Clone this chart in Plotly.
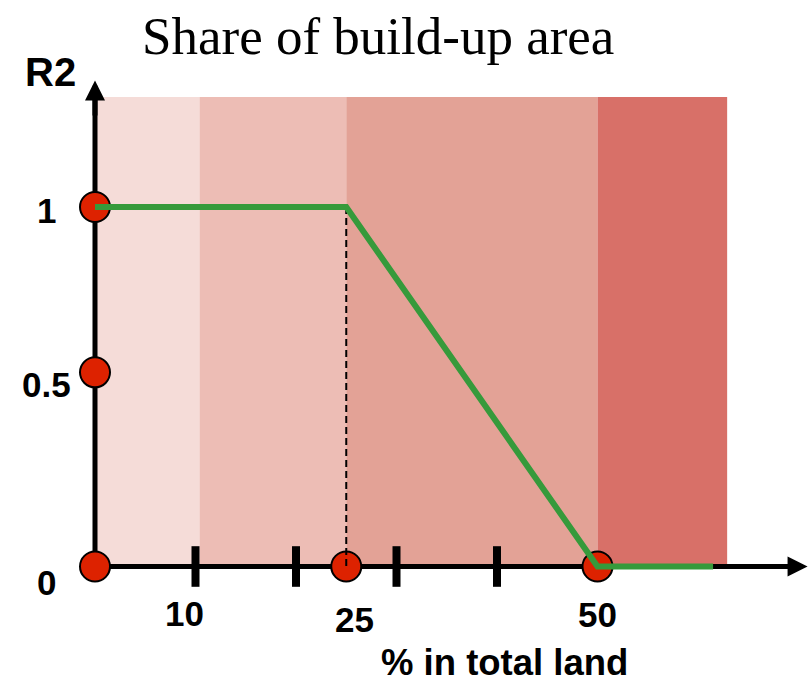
import plotly.graph_objects as go

# --- data -------------------------------------------------------------
band_edges = [0, 10.4, 25, 50, 62.9]          # share of built-up area (%)
band_colors = ["#f5dcd8", "#edbdb5", "#e3a296", "#d87068"]
band_top = 1.306

curve_x = [0, 25, 50, 61.5]                  # R2 response curve
curve_y = [1, 1, 0, 0]

point_x = [0, 0, 0, 25, 50]                  # highlighted points
point_y = [1, 0.54, 0, 0, 0]

tick_x = [10, 20, 30, 40]                    # tick marks on the x axis
xlabel_vals = [10, 25, 50]
ylabel_vals = [0, 0.5, 1]

# --- geometry of the canvas (axes hidden, drawn by hand) ----------------
W, H = 810, 683
px_x, x0_px = 10.05, 95        # px per unit, pixel of x=0
px_y, y0_px = 359.5, 566.5     # px per unit, pixel of y=0
x_range = [-x0_px / px_x, (W - x0_px) / px_x]
y_range = [-(H - y0_px) / px_y, y0_px / px_y]

SANS = "Liberation Sans, Arial, sans-serif"
SERIF = "Liberation Serif, Times New Roman, serif"

fig = go.Figure()

# background bands and axis lines
shapes = []
for i, c in enumerate(band_colors):
    shapes.append(dict(type="rect", xref="x", yref="y", layer="below",
                       x0=band_edges[i], x1=band_edges[i + 1], y0=0, y1=band_top,
                       fillcolor=c, line=dict(width=0)))
shapes.append(dict(type="line", xref="x", yref="y", layer="below",
                   x0=0, x1=0, y0=-0.005, y1=1.30, line=dict(color="black", width=5)))
shapes.append(dict(type="line", xref="x", yref="y", layer="below",
                   x0=-0.2, x1=69, y0=0, y1=0, line=dict(color="black", width=5)))

# tick marks crossing the x axis
fig.add_trace(go.Scatter(
    x=tick_x, y=[0] * len(tick_x), mode="markers",
    marker=dict(symbol="line-ns", size=29, line=dict(color="black", width=8)),
    hoverinfo="skip", showlegend=False))

# points
fig.add_trace(go.Scatter(
    x=point_x, y=point_y, mode="markers",
    marker=dict(size=30, color="#dd2200", line=dict(color="black", width=2)),
    showlegend=False))

# dashed drop line from the knee of the curve
fig.add_trace(go.Scatter(
    x=[curve_x[1], curve_x[1]], y=[curve_y[1], 0], mode="lines",
    line=dict(color="black", width=2, dash="7px,4px"),
    hoverinfo="skip", showlegend=False))

# response curve
fig.add_trace(go.Scatter(
    x=curve_x, y=curve_y, mode="lines",
    line=dict(color="#369a3b", width=6),
    showlegend=False))

annotations = []
# arrow heads of the axes
annotations.append(dict(x=0, y=1.352, ax=0, ay=1.25, xref="x", yref="y",
                        axref="x", ayref="y", text="", showarrow=True,
                        arrowhead=2, arrowsize=0.8, arrowwidth=5, arrowcolor="black"))
annotations.append(dict(x=70.9, y=0, ax=66, ay=0, xref="x", yref="y",
                        axref="x", ayref="y", text="", showarrow=True,
                        arrowhead=2, arrowsize=0.8, arrowwidth=5, arrowcolor="black"))

# y tick labels
y_shifts = {0: -16, 0.5: 2, 1: -3}
for v in ylabel_vals:
    annotations.append(dict(x=0, y=v, xref="x", yref="y", text=f"{v:g}",
                            showarrow=False, xshift=-49, yshift=y_shifts[v],
                            xanchor="center", yanchor="middle",
                            font=dict(family=SANS, size=35, color="black", weight="bold")))
# x tick labels
x_shifts = {10: (-11, -47), 25: (8, -53), 50: (0, -48)}
for v in xlabel_vals:
    dx, dy = x_shifts[v]
    annotations.append(dict(x=v, y=0, xref="x", yref="y", text=f"{v:g}",
                            showarrow=False, xshift=dx, yshift=dy,
                            xanchor="center", yanchor="middle",
                            font=dict(family=SANS, size=35, color="black", weight="bold")))

# axis titles
annotations.append(dict(x=50 / W, y=1 - 72 / H, xref="paper", yref="paper",
                        text="R2", showarrow=False, xanchor="center", yanchor="middle",
                        font=dict(family=SANS, size=40, color="black", weight="bold")))
annotations.append(dict(x=504 / W, y=1 - 662 / H, xref="paper", yref="paper",
                        text="% in total land", showarrow=False,
                        xanchor="center", yanchor="middle",
                        font=dict(family=SANS, size=36.5, color="black", weight="bold")))
# chart title
annotations.append(dict(x=378 / W, y=1 - 36 / H, xref="paper", yref="paper",
                        text="Share of build-up area", showarrow=False,
                        xanchor="center", yanchor="middle",
                        font=dict(family=SERIF, size=53, color="black")))

fig.update_layout(
    width=W, height=H,
    margin=dict(l=0, r=0, t=0, b=0),
    paper_bgcolor="white", plot_bgcolor="white",
    xaxis=dict(range=x_range, visible=False, fixedrange=True),
    yaxis=dict(range=y_range, visible=False, fixedrange=True),
    shapes=shapes, annotations=annotations,
    showlegend=False,
)

fig.write_html("out.html")
